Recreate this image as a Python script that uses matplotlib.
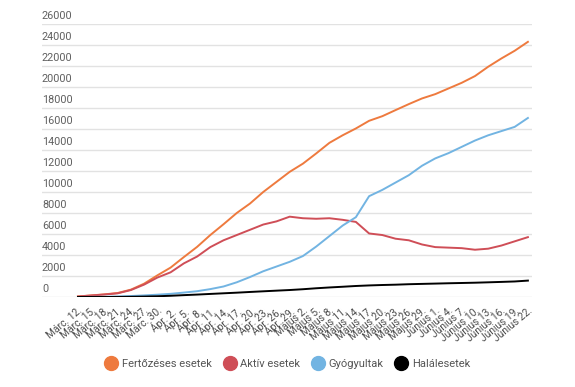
import matplotlib
matplotlib.use("Agg")
import matplotlib.pyplot as plt
from matplotlib.lines import Line2D
from matplotlib.transforms import blended_transform_factory

plt.rcParams['font.family'] = ['Roboto', 'DejaVu Sans']

dates = ["Márc. 12.", "Márc. 15.", "Márc. 18.", "Márc. 21.", "Márc. 24.", "Márc. 27.", "Márc. 30.",
         "Ápr. 2.", "Ápr. 5.", "Ápr. 8.", "Ápr. 11.", "Ápr. 14.", "Ápr. 17.", "Ápr. 20.", "Ápr. 23.",
         "Ápr. 26.", "Ápr. 29.", "Május 2.", "Május 5.", "Május 8.", "Május 11.", "Május 14.",
         "Május 17.", "Május 20.", "Május 23.", "Május 26.", "Május 29.", "Június 1.", "Június 4.",
         "Június 7.", "Június 10.", "Június 13.", "Június 16.", "Június 19.", "Június 22."]

fertozeses = [50, 150, 250, 380, 700, 1270, 2060, 2800, 3800, 4770, 5900, 6930, 8000, 8900, 10000,
              10960, 11920, 12700, 13670, 14680, 15400, 16050, 16780, 17220, 17800, 18370, 18910,
              19320, 19860, 20400, 21040, 21930, 22720, 23450, 24300]
aktiv = [45, 140, 235, 350, 660, 1180, 1850, 2350, 3200, 3850, 4750, 5400, 5900, 6400, 6900,
         7200, 7650, 7500, 7450, 7500, 7350, 7150, 6050, 5900, 5550, 5400, 5000, 4750, 4700,
         4650, 4500, 4600, 4900, 5300, 5700]
gyogyultak = [0, 10, 20, 50, 90, 150, 220, 300, 420, 550, 750, 1000, 1400, 1900, 2450, 2900,
              3350, 3900, 4800, 5800, 6800, 7600, 9600, 10200, 10900, 11600, 12500, 13200, 13700,
              14300, 14900, 15400, 15800, 16200, 17050]
halalesetek = [0, 0, 0, 5, 17, 37, 69, 115, 176, 229, 291, 351, 411, 478, 541, 603, 663, 739,
               830, 907, 975, 1047, 1100, 1141, 1172, 1216, 1247, 1276, 1307, 1333, 1360, 1397,
               1436, 1478, 1560]

series_names = ["Fertőzéses esetek", "Aktív esetek", "Gyógyultak", "Halálesetek"]
colors = ["#EE7A3E", "#CF4E57", "#72B4E2", "#000000"]
yticks = list(range(0, 26001, 2000))

fig = plt.figure(figsize=(5.75, 3.87), dpi=100)
ax = fig.add_axes([0.073, 0.2326, 0.852, 0.7054])

x = list(range(len(dates)))
for vals, c in zip([fertozeses, aktiv, gyogyultak, halalesetek], colors):
    ax.plot(x, vals, color=c, lw=1.4, solid_joinstyle='round')

ax.set_xlim(-2.72, 34.3)
ax.set_ylim(0, 26000)
ax.set_yticks(yticks)
ax.set_yticklabels([])
ax.tick_params(axis='y', length=0)
ax.grid(axis='y', color='#e2e2e2', lw=1)
ax.set_axisbelow(True)
for s in ax.spines.values():
    s.set_visible(False)

tr = blended_transform_factory(ax.transAxes, ax.transData)
for v in yticks:
    ax.text(0.0, v + 250, str(v), transform=tr, ha='left', va='bottom',
            fontsize=7.8, color='#606060')

ax.set_xticks(x)
ax.set_xticklabels(dates, rotation=40, ha='right', rotation_mode='anchor',
                   fontsize=7.4, color='#4a4a4a')
ax.tick_params(axis='x', length=0, pad=6)

handles = [Line2D([], [], marker='o', ls='none', markersize=10, color=c) for c in colors]
fig.legend(handles, series_names, loc='center', bbox_to_anchor=(0.5, 0.06), ncol=4,
           frameon=False, fontsize=8, labelcolor='#555555', handletextpad=0.35,
           columnspacing=1.0, handlelength=1.2)

fig.savefig("out.png", dpi=100, facecolor='white')
